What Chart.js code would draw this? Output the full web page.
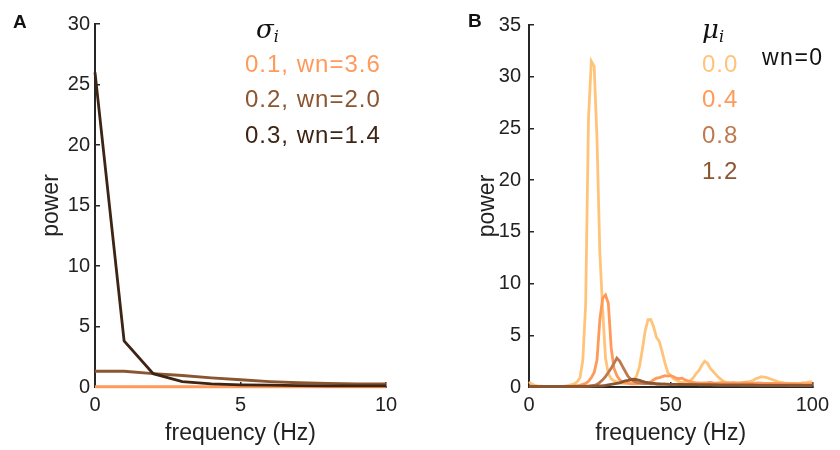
<!DOCTYPE html>
<html lang="en">

<head>
    <meta charset="UTF-8">
    <title>power spectra</title>
    <style>
        body {
            margin: 0;
            background: white;
            font-family: "Liberation Sans", Arial, sans-serif;
            color: #222;
        }

        .wrap {
            position: relative;
            width: 840px;
            height: 450px;
            overflow: hidden;
        }

        .panel {
            position: absolute;
            top: 0;
        }

        .txt {
            position: absolute;
            white-space: nowrap;
            line-height: 1;
        }

        .letter {
            font-weight: bold;
            font-size: 19px;
            color: #111;
        }

        .leg {
            font-size: 24px;
            letter-spacing: 1px;
        }

        .sym {
            font-family: "DejaVu Serif", "Liberation Serif", serif;
            font-style: italic;
            font-size: 26px;
            color: #111;
        }

        .sym sub {
            font-size: 16px;
            vertical-align: -4px;
        }
    </style>
</head>

<body>
    <div class="wrap">
        <canvas id="chartA" class="panel" style="left:0" width="420" height="450"></canvas>
        <canvas id="chartB" class="panel" style="left:420px" width="420" height="450"></canvas>

        <div class="txt letter" style="left:13px; top:12px">A</div>
        <div class="txt letter" style="left:468px; top:11px">B</div>

        <div class="txt sym" style="left:256px; top:16px">σ<sub>i</sub></div>
        <div id="legA"></div>

        <div class="txt sym" style="left:702px; top:16px">μ<sub>i</sub></div>
        <div id="legB"></div>
        <div class="txt leg" style="left:762px; top:46px; color:#111; font-size:23px; letter-spacing:1.5px">wn=0</div>
    </div>

    <script src="https://cdn.jsdelivr.net/npm/chart.js"></script>
    <script>
        // Panel A: low-frequency spectra for three sigma values
        const freqA = [0, 1, 2, 3, 4, 5, 6, 7, 8, 9, 10];
        const labelsA = ["0.1, wn=3.6", "0.2, wn=2.0", "0.3, wn=1.4"];
        const colorsA = ["#ff9a5a", "#8b5530", "#3d2414"];
        const sigma01 = [0.02, 0.02, 0.02, 0.02, 0.02, 0.02, 0.02, 0.02, 0.02, 0.02, 0.02];
        const sigma02 = [1.3, 1.3, 1.1, 0.95, 0.75, 0.6, 0.45, 0.35, 0.3, 0.25, 0.25];
        const sigma03 = [26, 3.8, 1.1, 0.45, 0.25, 0.18, 0.15, 0.12, 0.1, 0.1, 0.1];
        const ticksAx = [0, 5, 10];
        const ticksAy = [0, 5, 10, 15, 20, 25, 30];

        // Panel B: spectra for four mu values (wn=0), 1 Hz resolution
        const freqB = Array.from({ length: 101 }, (_, i) => i);
        const labelsB = ["0.0", "0.4", "0.8", "1.2"];
        const colorsB = ["#ffc47a", "#ff9a5a", "#bd7a4e", "#8b5530"];
        const mu00 = [
            0.5, 0.3, 0.15, 0.1, 0.08, 0.06, 0.05, 0.05, 0.05, 0.05,
            0.05, 0.06, 0.07, 0.1, 0.15, 0.22, 0.3, 0.5, 0.9, 2.6,
            8, 26, 31.5, 31.0, 24, 13, 7.5, 2.8, 1.3, 0.8,
            0.6, 0.5, 0.4, 0.35, 0.35, 0.4, 0.45, 0.6, 1.1, 2.0,
            3.6, 5.4, 6.5, 6.5, 5.8, 4.8, 4.4, 3.4, 2.3, 1.4,
            1.1, 0.8, 0.65, 0.5, 0.45, 0.45, 0.5, 0.6, 0.9, 1.3,
            1.6, 2.1, 2.5, 2.3, 1.8, 1.5, 1.2, 0.9, 0.7, 0.5,
            0.45, 0.4, 0.38, 0.38, 0.4, 0.42, 0.45, 0.5, 0.55, 0.62,
            0.8, 0.88, 1.0, 0.95, 0.9, 0.8, 0.7, 0.6, 0.5, 0.45,
            0.4, 0.38, 0.36, 0.35, 0.36, 0.35, 0.38, 0.42, 0.45, 0.5, 0.5
        ];
        const mu04 = [
            0.1, 0.08, 0.06, 0.05, 0.05, 0.05, 0.05, 0.05, 0.05, 0.05,
            0.05, 0.05, 0.06, 0.06, 0.07, 0.08, 0.1, 0.12, 0.18, 0.25,
            0.35, 0.55, 0.9, 1.4, 2.6, 6.5, 8.6, 8.9, 8.1, 3.8,
            1.8, 1.1, 0.7, 0.5, 0.4, 0.35, 0.3, 0.3, 0.3, 0.32,
            0.35, 0.38, 0.4, 0.5, 0.7, 0.85, 0.9, 1.0, 1.1, 1.05,
            1.1, 1.0, 0.85, 0.8, 0.85, 0.7, 0.6, 0.5, 0.45, 0.4,
            0.4, 0.38, 0.4, 0.42, 0.45, 0.4, 0.38, 0.4, 0.42, 0.4,
            0.38, 0.4, 0.42, 0.4, 0.38, 0.4, 0.42, 0.4, 0.38, 0.36,
            0.38, 0.4, 0.38, 0.36, 0.35, 0.36, 0.35, 0.34, 0.35, 0.33,
            0.33, 0.32, 0.33, 0.32, 0.3, 0.31, 0.3, 0.3, 0.3, 0.3, 0.3
        ];
        const mu08 = [
            0.08, 0.05, 0.05, 0.05, 0.05, 0.05, 0.05, 0.05, 0.05, 0.05,
            0.05, 0.05, 0.05, 0.05, 0.05, 0.05, 0.06, 0.06, 0.07, 0.08,
            0.09, 0.1, 0.12, 0.15, 0.25, 0.45, 0.7, 1.0, 1.4, 1.8,
            2.3, 2.8, 2.5, 2.0, 1.5, 1.0, 0.75, 0.55, 0.45, 0.4,
            0.35, 0.34, 0.32, 0.3, 0.3, 0.29, 0.28, 0.28, 0.27, 0.27,
            0.26, 0.26, 0.25, 0.25, 0.25, 0.24, 0.24, 0.24, 0.23, 0.23,
            0.23, 0.22, 0.22, 0.22, 0.22, 0.21, 0.21, 0.21, 0.21, 0.2,
            0.2, 0.2, 0.2, 0.2, 0.2, 0.2, 0.2, 0.2, 0.2, 0.2,
            0.2, 0.19, 0.19, 0.19, 0.19, 0.19, 0.18, 0.18, 0.18, 0.18,
            0.18, 0.18, 0.17, 0.17, 0.17, 0.17, 0.17, 0.16, 0.16, 0.16, 0.16
        ];
        const mu12 = [
            0.05, 0.05, 0.05, 0.05, 0.05, 0.05, 0.05, 0.05, 0.05, 0.05,
            0.05, 0.05, 0.05, 0.05, 0.05, 0.05, 0.05, 0.05, 0.05, 0.05,
            0.06, 0.07, 0.08, 0.09, 0.1, 0.11, 0.12, 0.15, 0.2, 0.25,
            0.3, 0.35, 0.4, 0.5, 0.6, 0.65, 0.72, 0.75, 0.72, 0.65,
            0.55, 0.48, 0.42, 0.38, 0.34, 0.3, 0.29, 0.28, 0.27, 0.26,
            0.26, 0.25, 0.25, 0.24, 0.24, 0.23, 0.23, 0.22, 0.22, 0.22,
            0.21, 0.21, 0.21, 0.2, 0.2, 0.2, 0.2, 0.19, 0.19, 0.19,
            0.19, 0.18, 0.18, 0.18, 0.18, 0.17, 0.17, 0.17, 0.17, 0.17,
            0.16, 0.16, 0.16, 0.16, 0.16, 0.16, 0.16, 0.16, 0.16, 0.16,
            0.16, 0.15, 0.15, 0.15, 0.15, 0.15, 0.15, 0.15, 0.15, 0.15, 0.15
        ];
        const ticksBx = [0, 50, 100];
        const ticksBy = [0, 5, 10, 15, 20, 25, 30, 35];

        const axisColor = '#262626';
        const tickFont = { family: "'Liberation Sans', Arial, sans-serif", size: 20 };
        const titleFont = { family: "'Liberation Sans', Arial, sans-serif", size: 23 };

        // legend text as plain positioned divs
        function addLegend(id, left, tops, labels, colors) {
            const box = document.getElementById(id);
            labels.forEach((t, i) => {
                const d = document.createElement('div');
                d.className = 'txt leg';
                d.style.left = left + 'px';
                d.style.top = tops[i] + 'px';
                d.style.color = colors[i];
                d.textContent = t;
                box.appendChild(d);
            });
        }
        addLegend('legA', 245, [52, 87, 123], labelsA, colorsA);
        addLegend('legB', 702, [52, 87, 123, 159], labelsB, colorsB);

        function makeSets(freq, series, colors) {
            return series.map((s, i) => ({
                data: freq.map((f, k) => ({ x: f, y: s[k] })),
                borderColor: colors[i],
                borderWidth: 2.8,
                pointRadius: 0,
                tension: 0,
                clip: 4,
                order: series.length - i
            }));
        }

        function makeScales(xMax, xTicks, yMax, yTicks, yWidth, yPad, titleLeft) {
            const grid = {
                drawOnChartArea: false,
                drawTicks: true,
                tickLength: -5,
                color: axisColor,
                lineWidth: 1.5
            };
            return {
                x: {
                    type: 'linear',
                    min: 0,
                    max: xMax,
                    afterBuildTicks: (s) => { s.ticks = xTicks.map(v => ({ value: v })); },
                    ticks: { color: '#222', font: tickFont, padding: 11, maxRotation: 0 },
                    grid: grid,
                    border: { color: axisColor, width: 2 },
                    title: { display: true, text: 'frequency (Hz)', color: '#222', font: titleFont, padding: { top: 0, bottom: 3 } },
                    afterFit: (s) => { s.height = 63; }
                },
                y: {
                    min: 0,
                    max: yMax,
                    afterBuildTicks: (s) => { s.ticks = yTicks.map(v => ({ value: v })); },
                    ticks: { color: '#222', font: tickFont, padding: yPad },
                    grid: grid,
                    border: { color: axisColor, width: 2 },
                    title: { display: true, text: 'power', color: '#222', font: titleFont, padding: { top: titleLeft, bottom: 0 } },
                    afterFit: (s) => { s.width = yWidth; }
                }
            };
        }

        const common = {
            responsive: false,
            animation: false,
            plugins: { legend: { display: false }, tooltip: { enabled: false } }
        };

        new Chart(document.getElementById('chartA'), {
            type: 'line',
            data: { datasets: makeSets(freqA, [sigma01, sigma02, sigma03], colorsA) },
            options: {
                ...common,
                layout: { padding: { left: 0, right: 34, top: 24, bottom: 0 } },
                scales: makeScales(10, ticksAx, 30, ticksAy, 95, 10, 38)
            }
        });

        new Chart(document.getElementById('chartB'), {
            type: 'line',
            data: { datasets: makeSets(freqB, [mu00, mu04, mu08, mu12], colorsB) },
            options: {
                ...common,
                layout: { padding: { left: 0, right: 22, top: 25, bottom: 0 } },
                scales: makeScales(100, ticksBx, 35, ticksBy, 109, 13, 54)
            }
        });
    </script>
</body>

</html>
